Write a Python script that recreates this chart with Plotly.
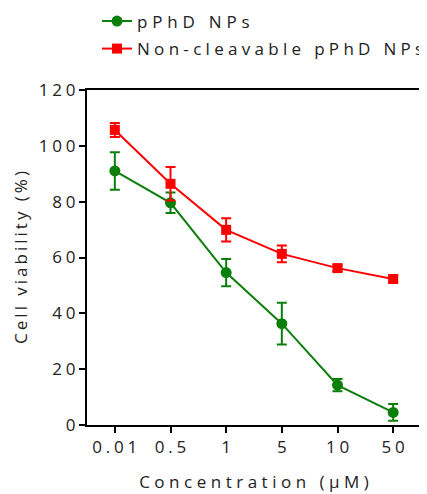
import plotly.graph_objects as go

concentrations = ["0.01", "0.5", "1", "5", "10", "50"]
pphd_values = [91.0, 79.6, 54.6, 36.3, 14.3, 4.5]
pphd_errors = [6.7, 3.7, 4.9, 7.5, 2.2, 3.0]
noncleav_values = [105.7, 86.4, 69.9, 61.3, 56.2, 52.3]
noncleav_errors = [2.5, 6.0, 4.2, 3.0, 1.0, 1.0]
y_ticks = [0, 20, 40, 60, 80, 100, 120]

font_family = "Open Sans, DejaVu Sans, sans-serif"


def spaced(text, px):
    # letter-spacing on every character except the last (no trailing gap)
    if len(text) < 2:
        return text
    return '<span style="letter-spacing:%spx">%s</span>%s' % (px, text[:-1], text[-1])


fig = go.Figure()
fig.add_trace(go.Scatter(
    x=concentrations, y=pphd_values, name=spaced("pPhD NPs", 4.8),
    mode="lines+markers", legend="legend",
    line=dict(color="#0a800a", width=2),
    marker=dict(symbol="circle", size=11, color="#0a800a"),
    error_y=dict(type="data", array=pphd_errors, visible=True,
                 color="#0a800a", thickness=2, width=5),
))
fig.add_trace(go.Scatter(
    x=concentrations, y=noncleav_values, name=spaced("Non-cleavable pPhD NPs", 4.3),
    mode="lines+markers", legend="legend2",
    line=dict(color="#ff0000", width=2),
    marker=dict(symbol="square", size=10, color="#ff0000"),
    error_y=dict(type="data", array=noncleav_errors, visible=True,
                 color="#ff0000", thickness=2, width=5),
))

legend_style = dict(xanchor="left", yanchor="top",
                    font=dict(size=17, color="#222222"),
                    itemwidth=30, bgcolor="rgba(0,0,0,0)")

fig.update_layout(
    width=427, height=494,
    margin=dict(l=79, r=14, t=82, b=77, autoexpand=False),
    paper_bgcolor="white", plot_bgcolor="white",
    font=dict(family=font_family, size=17, color="#222222"),
    showlegend=True,
    legend=dict(x=0.03, y=1.258, **legend_style),
    legend2=dict(x=0.03, y=1.176, **legend_style),
    xaxis=dict(
        type="category", range=[-0.5, 5.5],
        tickvals=concentrations,
        ticktext=[spaced(c, 3.8) for c in concentrations],
        showline=True, linecolor="black", linewidth=2, mirror=True,
        ticks="outside", ticklen=6, tickwidth=2, tickcolor="black",
        showgrid=False, zeroline=False,
        tickfont=dict(size=17),
        title=dict(text=spaced("Concentration (μM)", 4.5), font=dict(size=17), standoff=19),
    ),
    yaxis=dict(
        range=[0, 120], tickvals=y_ticks,
        ticktext=[spaced(str(v), 3.8) for v in y_ticks],
        showline=True, linecolor="black", linewidth=2, mirror=True,
        ticks="outside", ticklen=6, tickwidth=2, tickcolor="black",
        showgrid=False, zeroline=False,
        tickfont=dict(size=17),
        title=dict(text=spaced("Cell viability (%)", 3), font=dict(size=17), standoff=7),
    ),
)

fig.write_html("out.html")
